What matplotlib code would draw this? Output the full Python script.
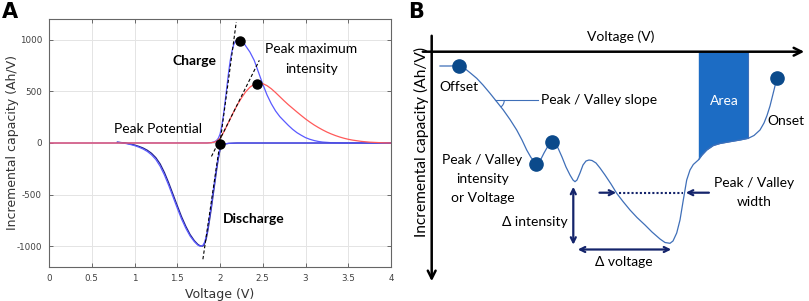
import matplotlib
matplotlib.use('Agg')
import matplotlib.pyplot as plt
from matplotlib.patches import Arc

plt.rcParams['axes.unicode_minus'] = False
TXT = 'Lato'

# ---- panel A: incremental capacity curves, voltage (V) / capacity (Ah/V)
charge_v = [0, 1.85, 1.9, 1.93, 1.96, 1.98, 2.0, 2.02, 2.04, 2.06, 2.08, 2.1,
            2.12, 2.14, 2.16, 2.18, 2.2, 2.22, 2.25, 2.28, 2.3, 2.35, 2.4,
            2.45, 2.5, 2.55, 2.6, 2.65, 2.7, 2.75, 2.8, 2.85, 2.9, 2.95, 3.0,
            3.05, 3.1, 3.15, 3.2, 3.3, 3.4, 3.5, 4.0]
charge_blue = [0, 1, 4, 10, 25, 45, 85, 160, 270, 400, 540, 680,
               800, 890, 950, 985, 1000, 1000, 990, 965, 940, 880, 800,
               685, 570, 465, 380, 310, 255, 212, 170, 132, 100, 75, 52,
               36, 24, 15, 9, 3, 1, 0, 0]

red_v = [0, 1.85, 1.9, 1.95, 2.0, 2.05, 2.1, 2.15, 2.2, 2.25, 2.3, 2.35, 2.4,
         2.45, 2.5, 2.55, 2.6, 2.65, 2.7, 2.75, 2.8, 2.85, 2.9, 2.95, 3.0,
         3.05, 3.1, 3.15, 3.2, 3.25, 3.3, 3.35, 3.4, 3.45, 3.5, 3.55, 3.6,
         3.65, 3.7, 3.75, 3.8, 3.85, 3.9, 4.0]
charge_red = [0, 0, 3, 12, 45, 115, 200, 285, 365, 435, 495, 540, 568,
              580, 575, 555, 525, 488, 448, 408, 370, 335, 300, 266, 233,
              203, 175, 150, 127, 106, 88, 72, 58, 46, 36, 28, 22,
              16, 12, 8, 6, 4, 2, 0]

dis_v = [0.8, 0.85, 0.9, 0.95, 1.0, 1.05, 1.1, 1.15, 1.2, 1.25, 1.3, 1.35, 1.4,
         1.45, 1.5, 1.55, 1.6, 1.65, 1.7, 1.74, 1.77, 1.8, 1.82, 1.84, 1.86,
         1.88, 1.9, 1.92, 1.94, 1.96, 1.98, 2.0, 2.02, 2.05, 2.1, 2.2, 4.0]
discharge_a = [8, 2, -5, -14, -25, -40, -58, -82, -115, -160, -225, -310, -410,
               -520, -630, -735, -825, -900, -955, -988, -1000, -990, -960, -900, -810,
               -700, -590, -470, -350, -235, -130, -55, -22, -9, -3, 0, 0]
discharge_b = [8, 4, -2, -10, -19, -32, -48, -70, -100, -142, -202, -285, -385,
               -495, -605, -712, -805, -885, -945, -980, -996, -998, -975, -925, -840,
               -735, -625, -505, -385, -265, -155, -70, -28, -11, -4, 0, 0]

tangents = [([1.99, 2.19], [-60, 1170]),
            ([1.90, 2.46], [-130, 800]),
            ([1.80, 2.01], [-1125, 60])]
peak_v = [2.23, 2.43, 2.0]
peak_q = [990, 575, -10]

# ---- panel B: schematic curve (drawing units, y grows downward)
sk_x = [440, 450, 459.3, 463, 466.7, 471, 476.7, 483, 490, 496, 503.3, 510,
        516.7, 522, 526.7, 531, 536, 540, 544, 548, 551.7, 555, 558, 562, 566,
        570, 573, 575, 577, 580, 583, 586, 589, 592, 596, 600, 605, 611, 616.7,
        623, 630, 637, 645, 652, 660, 665, 670, 673, 676.7, 680, 683.3, 686.7,
        690, 693.3, 698.3, 702, 706.7, 713.3, 720, 730, 740, 748.3, 754, 760,
        764, 767, 770, 772, 774.5, 776.7]
sk_y = [66, 66, 65.7, 67, 70, 73.5, 78.3, 85, 93.3, 100.8, 110, 119.5,
        130, 140, 150, 157.5, 163.5, 161, 153, 146, 142.3, 143, 148, 157, 167,
        175, 180, 181.7, 180, 173, 165, 161, 160, 160.5, 163, 168, 175, 184, 193.3,
        201.5, 210, 217.5, 225, 232, 239, 242.5, 243.3, 241, 233, 220, 200, 180,
        170, 164.5, 160, 155, 150, 145.5, 143.5, 141.7, 140, 138.3, 135.5, 130,
        123, 115.5, 106, 98, 88, 78.3]
sk_dots = [2, 16, 20, len(sk_x) - 1]
area_from, area_to = sk_x.index(698.3), sk_x.index(748.3)

fig = plt.figure(figsize=(8.09, 3.01), dpi=100)

ax = fig.add_axes([49 / 809, 34 / 301, 342 / 809, 248 / 301])
ax.plot(charge_v, charge_blue, color='#5a5aff', lw=0.9)
ax.plot(dis_v, discharge_b, color='#22228a', lw=0.9)
ax.plot(dis_v, discharge_a, color='#5a5aff', lw=0.9)
ax.plot(red_v, charge_red, color='#ff5a5a', lw=0.9)
for tx, ty in tangents:
    ax.plot(tx, ty, color='black', ls=(0, (3, 2)), lw=0.8)
ax.plot(peak_v, peak_q, 'o', color='black', ms=6.5, zorder=5)
ax.set_xlim(0, 4)
ax.set_ylim(-1200, 1200)
ax.set_xticks([0, 0.5, 1, 1.5, 2, 2.5, 3, 3.5, 4])
ax.set_xticklabels(['0', '0.5', '1', '1.5', '2', '2.5', '3', '3.5', '4'])
ax.set_yticks([-1000, -500, 0, 500, 1000])
ax.grid(True, color='#e4e4e4', lw=0.7)
ax.set_axisbelow(True)
ax.tick_params(direction='in', length=3, width=0.6, top=True, right=True,
               labelsize=6.3, labelcolor='#404040', color='#555555', pad=5)
for s in ax.spines.values():
    s.set_color('#666666')
    s.set_linewidth(0.8)
ax.set_xlabel('Voltage (V)', fontsize=9, color='#333333')
ax.set_ylabel('Incremental capacity (Ah/V)', fontsize=9, color='#333333')
ax.xaxis.set_label_coords(0.5, -0.083)
ax.yaxis.set_label_coords(-0.088, 0.5)

ax.text(1.70, 790, 'Charge', fontsize=10, fontweight='bold', family=TXT, ha='center', va='center')
ax.text(3.07, 905, 'Peak maximum', fontsize=10, family=TXT, ha='center', va='center')
ax.text(3.07, 720, 'intensity', fontsize=10, family=TXT, ha='center', va='center')
ax.text(1.28, 140, 'Peak Potential', fontsize=10, family=TXT, ha='center', va='center')
ax.text(2.39, -740, 'Discharge', fontsize=10, fontweight='bold', family=TXT, ha='center', va='center')

fig.text(2 / 809, 1 - 12 / 301, 'A', fontsize=15, fontweight='bold', va='center')

# ---- panel B
bx = fig.add_axes([410 / 809, 0, 399 / 809, 1])
bx.set_xlim(410, 809)
bx.set_ylim(301, 0)
bx.axis('off')

bx.text(408.5, 12, 'B', fontsize=15, fontweight='bold', va='center')

axis_y = 51.7
bx.annotate('', xy=(807, axis_y), xytext=(420, axis_y),
            arrowprops=dict(arrowstyle='->', lw=1.8, color='black', mutation_scale=14))
bx.annotate('', xy=(431.7, 284), xytext=(431.7, 33),
            arrowprops=dict(arrowstyle='->', lw=1.8, color='black', mutation_scale=14))
bx.text(621, 37, 'Voltage (V)', fontsize=10, family=TXT, ha='center', va='center')
bx.text(421, 142, 'Incremental capacity (Ah/V)', fontsize=11.2, family=TXT,
        rotation=90, ha='center', va='center')

fx = sk_x[area_from:area_to + 1]
fy = sk_y[area_from:area_to + 1]
bx.fill_between(fx, axis_y, fy, color='#1c6cc4', lw=0)
bx.plot([fx[-1], fx[-1]], [axis_y, fy[-1]], color='#3f6fb8', lw=0.8)
bx.plot(sk_x, sk_y, color='#3f6fb8', lw=0.9)
bx.plot([sk_x[i] for i in sk_dots], [sk_y[i] for i in sk_dots], 'o',
        color='#0b4a8b', ms=9.5, zorder=5)

bx.plot([495.3, 538], [100, 100], color='#3f6fb8', lw=0.8)
bx.add_patch(Arc((495.3, 100), 18, 18, theta1=0, theta2=52, color='#3f6fb8', lw=0.8))

navy = '#14246b'
bx.annotate('', xy=(573.3, 184), xytext=(573.3, 247.5),
            arrowprops=dict(arrowstyle='<->', lw=1.6, color=navy, mutation_scale=9))
bx.annotate('', xy=(575, 249.5), xytext=(674, 249.5),
            arrowprops=dict(arrowstyle='<->', lw=1.6, color=navy, mutation_scale=9))
bx.annotate('', xy=(619, 192.7), xytext=(596.7, 192.7),
            arrowprops=dict(arrowstyle='->', lw=1.6, color=navy, mutation_scale=9))
bx.annotate('', xy=(683, 192.7), xytext=(711.7, 192.7),
            arrowprops=dict(arrowstyle='->', lw=1.6, color=navy, mutation_scale=9))
bx.plot([619, 683], [192.7, 192.7], color=navy, lw=1.5, ls=(0, (1, 1)))

kw = dict(fontsize=10, family=TXT, ha='center', va='center')
bx.text(459, 87, 'Offset', **kw)
bx.text(541, 100, 'Peak / Valley slope', fontsize=10, family=TXT, ha='left', va='center')
bx.text(482.5, 160, 'Peak / Valley', **kw)
bx.text(482.5, 179, 'intensity', **kw)
bx.text(482.5, 197.5, 'or Voltage', **kw)
bx.text(535, 222, 'Δ intensity', **kw)
bx.text(624, 262, 'Δ voltage', **kw)
bx.text(754, 183, 'Peak / Valley', **kw)
bx.text(754, 202, 'width', **kw)
bx.text(786, 121, 'Onset', **kw)
bx.text(724, 101, 'Area', color='white', **kw)

fig.savefig('out.png', dpi=100)
